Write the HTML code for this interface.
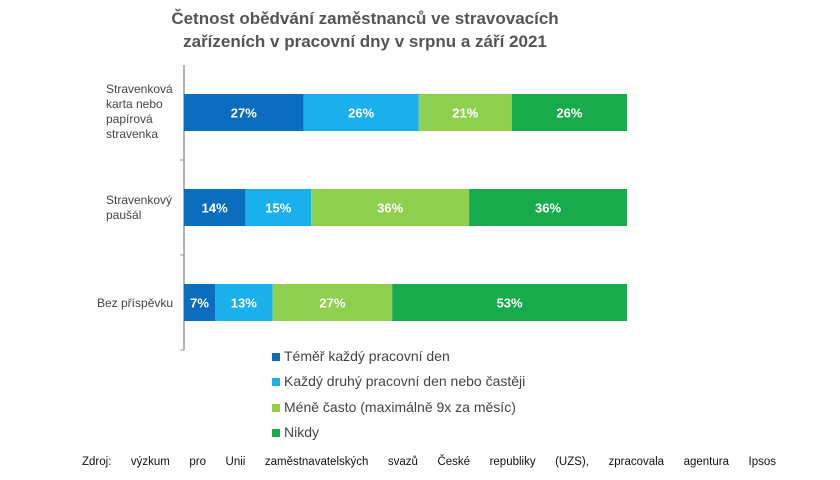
<!DOCTYPE html>
<html><head><meta charset="utf-8"><style>
body{margin:0;width:840px;height:480px;background:#fff;overflow:hidden;font-family:"Liberation Sans",sans-serif;position:relative}
#title{position:absolute;left:140px;top:7px;width:450px;text-align:center;font-weight:bold;font-size:17px;line-height:23px;color:#555}
.cat{position:absolute;font-size:12px;color:#444;line-height:15px}
.leg{position:absolute;left:272px;font-size:14px;color:#444}
.leg span{display:inline-block;width:8px;height:8px;margin-right:4px}
#src{position:absolute;left:82px;top:456px;width:694px;font-size:11.5px;color:#111;text-align:justify;text-align-last:justify;white-space:nowrap}
</style></head><body>
<div id="title">Četnost obědvání zaměstnanců ve stravovacích<br>zařízeních v pracovní dny v srpnu a září 2021</div>
<div class="cat" style="left:106px;top:82px">Stravenková<br>karta nebo<br>papírová<br>stravenka</div>
<div class="cat" style="left:106px;top:193px">Stravenkový<br>paušál</div>
<div class="cat" style="left:97px;top:296px">Bez příspěvku</div>
<svg id="chart" width="840" height="480" style="position:absolute;left:0;top:0"></svg>
<div class="leg" style="top:348px"><span style="background:#0a6dbd"></span>Téměř každý pracovní den</div>
<div class="leg" style="top:373px"><span style="background:#1ab0ec"></span>Každý druhý pracovní den nebo častěji</div>
<div class="leg" style="top:399px"><span style="background:#8fd14f"></span>Méně často (maximálně 9x za měsíc)</div>
<div class="leg" style="top:424px"><span style="background:#17ab4b"></span>Nikdy</div>
<div id="src">Zdroj: výzkum pro Unii zaměstnavatelských svazů České republiky (UZS), zpracovala agentura Ipsos</div>
<script>
const categories=["Stravenková karta","Stravenkový paušál","Bez příspěvku"];
const s1=[27,14,7];
const s2=[26,15,13];
const s3=[21,36,27];
const s4=[26,36,53];
const colors=["#0a6dbd","#1ab0ec","#8fd14f","#17ab4b"];
const svg=document.getElementById('chart');
const NS="http://www.w3.org/2000/svg";
const x0=184,x1=627,yTop=65,band=95,barH=37;
function yPos(i){return yTop+band*i+(band-barH)/2;}
function mk(t,a){const e=document.createElementNS(NS,t);for(const k in a)e.setAttribute(k,a[k]);svg.appendChild(e);return e;}
const ax=mk('line',{x1:x0,y1:yTop,x2:x0,y2:yTop+band*3,stroke:'#999','stroke-width':1.5});


for(let i=1;i<=3;i++){const t=mk('line',{x1:x0-4,y1:yTop+band*i,x2:x0,y2:yTop+band*i,stroke:'#999'});

}
const series=[s1,s2,s3,s4];
categories.forEach((c,i)=>{
 const tot=series.reduce((a,s)=>a+s[i],0);
 let acc=0;
 series.forEach((s,j)=>{
  const xa=x0+(x1-x0)*acc/tot, w=(x1-x0)*s[i]/tot; acc+=s[i];
  const r=mk('rect',{x:xa,y:yPos(i),width:w,height:barH,fill:colors[j]});
  
  
  const t=mk('text',{x:xa+w/2,y:yPos(i)+barH/2+5,'text-anchor':'middle','font-size':13,'font-weight':'bold',fill:'#fff','font-family':'Liberation Sans, sans-serif'});
  t.textContent=s[i]+'%';
  
  
 });
});
</script>
</body></html>
